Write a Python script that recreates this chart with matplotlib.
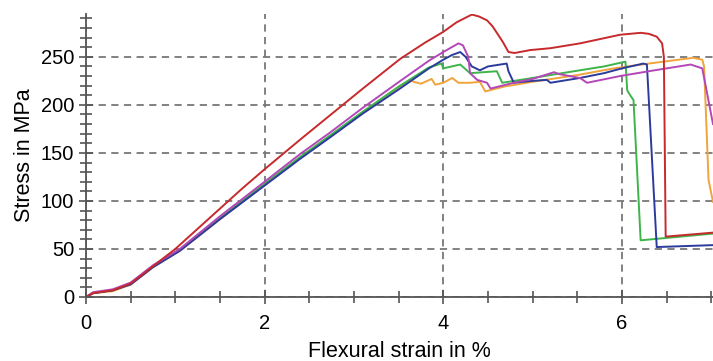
import matplotlib
matplotlib.use("Agg")
import matplotlib.pyplot as plt
from matplotlib.ticker import MultipleLocator

plt.rcParams["font.family"] = ["Liberation Sans", "DejaVu Sans"]

# Stress-strain curves (strain in %, stress in MPa)
red_x = [0, 0.08, 0.3, 0.5, 0.75, 1.0, 1.25, 1.5, 1.75, 2.0, 2.4, 2.73, 3.1, 3.52, 3.8, 4.0,
         4.15, 4.32, 4.4, 4.49, 4.55, 4.6, 4.67, 4.73, 4.8, 4.97, 5.2, 5.53, 5.98, 6.21, 6.3,
         6.39, 6.45, 6.47, 6.49, 6.51, 7.02]
red_y = [0, 4, 7, 14, 32, 50, 71, 92, 113, 133, 164, 189, 217, 248, 265, 276,
         286, 294, 292, 288, 282, 275, 265, 255, 254, 257, 259, 264, 273, 275, 274,
         271, 264, 250, 63, 63, 67]

blue_x = [0, 0.08, 0.3, 0.5, 0.75, 1.05, 1.5, 2.0, 2.4, 2.73, 3.1, 3.5, 3.84, 4.0, 4.1, 4.19,
          4.25, 4.32, 4.41, 4.5, 4.71, 4.73, 4.79, 5.0, 5.16, 5.2, 5.53, 5.8, 6.0, 6.24, 6.28,
          6.39, 7.02]
blue_y = [0, 4, 7, 13, 31, 48, 81, 116, 144, 166, 191, 216, 238, 247, 252, 255,
          250, 240, 236, 240, 243, 235, 223, 225, 226, 223, 228, 233, 238, 243, 242,
          52, 54]

green_x = [0, 0.08, 0.3, 0.5, 0.75, 1.05, 1.5, 2.0, 2.4, 2.73, 3.1, 3.5, 3.84, 3.98, 4.0,
           4.19, 4.3, 4.6, 4.66, 5.0, 5.53, 5.8, 6.04, 6.06, 6.1, 6.13, 6.21, 7.02]
green_y = [0, 4, 7, 14, 32, 49, 82, 118, 146, 168, 193, 219, 239, 243, 238,
           242, 233, 235, 223, 228, 236, 240, 245, 215, 209, 205, 59, 66]

magenta_x = [0, 0.08, 0.3, 0.5, 0.75, 1.05, 1.5, 2.0, 2.4, 2.73, 3.1, 3.52, 3.84, 4.0, 4.17,
             4.22, 4.28, 4.3, 4.38, 4.49, 4.53, 4.79, 5.0, 5.24, 5.3, 5.53, 5.61, 5.98, 6.3,
             6.77, 6.9, 6.95, 7.02]
magenta_y = [0, 5, 8, 15, 33, 50, 84, 120, 149, 171, 197, 225, 246, 255, 264,
             262, 250, 233, 226, 223, 217, 223, 227, 234, 232, 228, 223, 230, 235,
             242, 238, 214, 180]

orange_x = [0, 0.08, 0.3, 0.5, 0.75, 1.05, 1.5, 2.0, 2.4, 2.73, 3.1, 3.48, 3.63, 3.67, 3.75,
            3.87, 3.91, 4.0, 4.1, 4.17, 4.3, 4.41, 4.47, 4.68, 5.0, 5.5, 5.91, 6.3, 6.8,
            6.9, 6.92, 6.97, 7.02]
orange_y = [0, 4, 6, 13, 31, 48, 81, 117, 145, 167, 192, 217, 226, 224, 222,
            227, 221, 223, 228, 223, 223, 224, 214, 219, 224, 231, 238, 243, 249,
            247, 240, 122, 99]

series = [
    (orange_x, orange_y, "#f0a43c"),
    (green_x, green_y, "#3fb44a"),
    (blue_x, blue_y, "#2b3b9c"),
    (magenta_x, magenta_y, "#b447b8"),
    (red_x, red_y, "#c62a2c"),
]

fig = plt.figure(figsize=(7.13, 3.61), dpi=100)
ax = fig.add_axes([0.1206, 0.1773, 0.8794, 0.785])

for xs, ys, col in series:
    ax.plot(xs, ys, color=col, lw=1.4)

ax.set_xlim(0, 7.02)
ax.set_ylim(0, 295)
ax.set_xticks([0, 2, 4, 6])
ax.set_yticks([0, 50, 100, 150, 200, 250])
ax.xaxis.set_minor_locator(MultipleLocator(0.5))
ax.yaxis.set_minor_locator(MultipleLocator(10))

ax.grid(True, which="major", color="#777777", linestyle=(0, (4, 3)), linewidth=1.3)
ax.set_axisbelow(True)

for side in ["top", "right"]:
    ax.spines[side].set_visible(False)
for side in ["left", "bottom"]:
    ax.spines[side].set_color("#555555")
    ax.spines[side].set_linewidth(1.3)

ax.tick_params(which="major", direction="inout", length=10, width=1.2, color="#555555",
               labelsize=14.5)
ax.tick_params(axis="x", which="major", pad=7)
ax.tick_params(which="minor", direction="inout", length=8, width=1.2, color="#555555")

ax.set_xlabel("Flexural strain in %", fontsize=15.5, labelpad=6)
ax.set_ylabel("Stress in MPa", fontsize=15.5, labelpad=4)

fig.savefig("out.png", dpi=100)
